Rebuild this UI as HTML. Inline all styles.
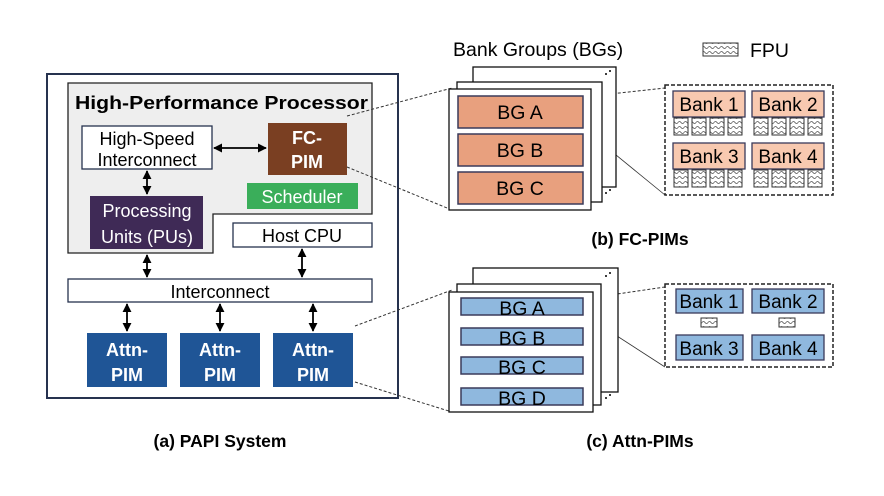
<!DOCTYPE html>
<html><head><meta charset="utf-8"><style>html,body{margin:0;padding:0;background:#fff}svg{display:block}text{font-family:"Liberation Sans",Arial,sans-serif}</style></head><body>
<svg width="884" height="496" viewBox="0 0 884 496" xmlns="http://www.w3.org/2000/svg">
<defs>
<pattern id="fpu" width="6" height="5" patternUnits="userSpaceOnUse">
<rect width="6" height="5" fill="#fff"/>
<path d="M0 2.5 Q1.5 0.5 3 2.5 T6 2.5" stroke="#555" stroke-width="0.8" fill="none"/>
</pattern>
<marker id="ah" viewBox="0 0 10 10" refX="9" refY="5" markerWidth="5" markerHeight="5" orient="auto-start-reverse"><path d="M0 0 L10 5 L0 10 z" fill="#000"/></marker>
</defs>

<!-- (a) -->
<rect x="47" y="74" width="351" height="324" fill="#fff" stroke="#26324f" stroke-width="2"/>
<path d="M68 83 H372 V214 H213 V253 H68 Z" fill="#eeeeee" stroke="#222" stroke-width="1.3"/>
<text x="75" y="109" font-size="18.5" font-weight="bold" textLength="293" lengthAdjust="spacingAndGlyphs">High-Performance Processor</text>
<rect x="82" y="126" width="130" height="43" fill="#fff" stroke="#26324f" stroke-width="1.3"/>
<text x="147" y="145" font-size="18" text-anchor="middle">High-Speed</text>
<text x="147" y="166" font-size="18" text-anchor="middle">Interconnect</text>
<rect x="268" y="123" width="79" height="52" fill="#7a3f22"/>
<text x="307" y="144" font-size="18" font-weight="bold" fill="#fff" text-anchor="middle">FC-</text>
<text x="307" y="168" font-size="18" font-weight="bold" fill="#fff" text-anchor="middle">PIM</text>
<rect x="247" y="183" width="111" height="26" fill="#3aae5a"/>
<text x="302" y="203" font-size="18" fill="#fff" text-anchor="middle">Scheduler</text>
<rect x="90" y="196" width="113" height="53" fill="#3f2a56"/>
<text x="147" y="217" font-size="18" fill="#fff" text-anchor="middle">Processing</text>
<text x="147" y="243" font-size="18" fill="#fff" text-anchor="middle">Units (PUs)</text>
<rect x="233" y="223" width="139" height="24" fill="#fff" stroke="#26324f" stroke-width="1.3"/>
<text x="302" y="242" font-size="18" text-anchor="middle">Host CPU</text>
<rect x="68" y="279" width="304" height="23" fill="#fff" stroke="#26324f" stroke-width="1.3"/>
<text x="220" y="298" font-size="18" text-anchor="middle">Interconnect</text>
<g fill="#1f5596">
<rect x="87" y="333" width="80" height="54"/><rect x="180" y="333" width="80" height="54"/><rect x="273" y="333" width="80" height="54"/></g>
<g font-size="18" font-weight="bold" fill="#fff" text-anchor="middle">
<text x="127" y="356">Attn-</text><text x="127" y="381">PIM</text>
<text x="220" y="356">Attn-</text><text x="220" y="381">PIM</text>
<text x="313" y="356">Attn-</text><text x="313" y="381">PIM</text></g>
<g stroke="#000" stroke-width="1.8" marker-start="url(#ah)" marker-end="url(#ah)">
<line x1="214" y1="148" x2="266" y2="148"/>
<line x1="147" y1="171" x2="147" y2="194"/>
<line x1="147" y1="255" x2="147" y2="277"/>
<line x1="302" y1="249" x2="302" y2="277"/>
<line x1="127" y1="304" x2="127" y2="331"/>
<line x1="220" y1="304" x2="220" y2="331"/>
<line x1="313" y1="304" x2="313" y2="331"/>
</g>
<g stroke="#333" stroke-width="1" stroke-dasharray="3,2" fill="none">
<line x1="347" y1="116" x2="452" y2="88"/>
<line x1="347" y1="167" x2="452" y2="210"/>
<line x1="355" y1="326" x2="452" y2="290"/>
<line x1="355" y1="382" x2="452" y2="412"/>
<line x1="583" y1="97" x2="665" y2="88"/>
<line x1="583" y1="299" x2="665" y2="287"/>
</g>
<g stroke="#333" stroke-width="0.8">
<line x1="583" y1="128" x2="665" y2="195"/>
<line x1="583" y1="314" x2="665" y2="367"/>
</g>
<text x="220" y="447" font-size="17.5" font-weight="bold" text-anchor="middle">(a) PAPI System</text>

<!-- (b) -->
<text x="453" y="56" font-size="19.5">Bank Groups (BGs)</text>
<rect x="703" y="43" width="35" height="13" fill="url(#fpu)" stroke="#333" stroke-width="1"/>
<text x="750" y="57" font-size="19.5">FPU</text>
<g fill="#fff" stroke="#111" stroke-width="1.3">
<rect x="473" y="67" width="143" height="120"/>
<rect x="457" y="82" width="145" height="120"/>
<rect x="449" y="89" width="142" height="121"/></g>
<g fill="#000"><circle cx="606" cy="74" r="1"/><circle cx="610" cy="71" r="1"/><circle cx="606" cy="193" r="1"/><circle cx="610" cy="190" r="1"/></g>
<g fill="#e8a07e" stroke="#3a3a5a" stroke-width="1.5">
<rect x="458" y="96" width="125" height="32"/><rect x="458" y="134" width="125" height="32"/><rect x="458" y="172" width="125" height="32"/></g>
<g font-size="19.5" text-anchor="middle"><text x="520" y="119">BG A</text><text x="520" y="157">BG B</text><text x="520" y="195">BG C</text></g>
<rect x="665" y="85" width="168" height="110" fill="#fff" stroke="#222" stroke-width="1.5" stroke-dasharray="4,2"/>
<g fill="#f8c9b0" stroke="#3a3a5a" stroke-width="1.3">
<rect x="673" y="91" width="72" height="26"/><rect x="752" y="91" width="72" height="26"/>
<rect x="673" y="143" width="72" height="26"/><rect x="752" y="143" width="72" height="26"/></g>
<g font-size="19" text-anchor="middle"><text x="709" y="111">Bank 1</text><text x="788" y="111">Bank 2</text><text x="709" y="163">Bank 3</text><text x="788" y="163">Bank 4</text></g>
<g fill="url(#fpu)" stroke="#333" stroke-width="1">
<rect x="674" y="118" width="14" height="17"/><rect x="692" y="118" width="14" height="17"/><rect x="710" y="118" width="14" height="17"/><rect x="728" y="118" width="14" height="17"/>
<rect x="754" y="118" width="14" height="17"/><rect x="772" y="118" width="14" height="17"/><rect x="790" y="118" width="14" height="17"/><rect x="808" y="118" width="14" height="17"/>
<rect x="674" y="170" width="14" height="17"/><rect x="692" y="170" width="14" height="17"/><rect x="710" y="170" width="14" height="17"/><rect x="728" y="170" width="14" height="17"/>
<rect x="754" y="170" width="14" height="17"/><rect x="772" y="170" width="14" height="17"/><rect x="790" y="170" width="14" height="17"/><rect x="808" y="170" width="14" height="17"/></g>
<text x="640" y="245" font-size="17.5" font-weight="bold" text-anchor="middle">(b) FC-PIMs</text>

<!-- (c) -->
<g fill="#fff" stroke="#111" stroke-width="1.3">
<rect x="473" y="268" width="145" height="124"/>
<rect x="457" y="284" width="144" height="121"/>
<rect x="449" y="292" width="144" height="120"/></g>
<g fill="#000"><circle cx="606" cy="276" r="1"/><circle cx="610" cy="273" r="1"/><circle cx="606" cy="398" r="1"/><circle cx="610" cy="395" r="1"/></g>
<g fill="#8fb8de" stroke="#3a3a5a" stroke-width="1.5">
<rect x="461" y="298" width="122" height="17"/><rect x="461" y="328" width="122" height="17"/><rect x="461" y="357" width="122" height="17"/><rect x="461" y="388" width="122" height="17"/></g>
<g font-size="19.5" text-anchor="middle"><text x="522" y="315">BG A</text><text x="522" y="345">BG B</text><text x="522" y="374">BG C</text><text x="522" y="405">BG D</text></g>
<rect x="665" y="284" width="168" height="83" fill="#fff" stroke="#222" stroke-width="1.5" stroke-dasharray="4,2"/>
<g fill="#8fb8de" stroke="#3a3a5a" stroke-width="1.3">
<rect x="676" y="289" width="67" height="24"/><rect x="752" y="289" width="72" height="24"/>
<rect x="676" y="335" width="67" height="25"/><rect x="752" y="335" width="72" height="25"/></g>
<g font-size="19" text-anchor="middle"><text x="709" y="308">Bank 1</text><text x="788" y="308">Bank 2</text><text x="709" y="355">Bank 3</text><text x="788" y="355">Bank 4</text></g>
<rect x="701" y="318" width="16" height="9" fill="url(#fpu)" stroke="#333" stroke-width="1"/>
<rect x="779" y="318" width="16" height="9" fill="url(#fpu)" stroke="#333" stroke-width="1"/>
<text x="640" y="447" font-size="17.5" font-weight="bold" text-anchor="middle">(c) Attn-PIMs</text>
</svg>
</body></html>
